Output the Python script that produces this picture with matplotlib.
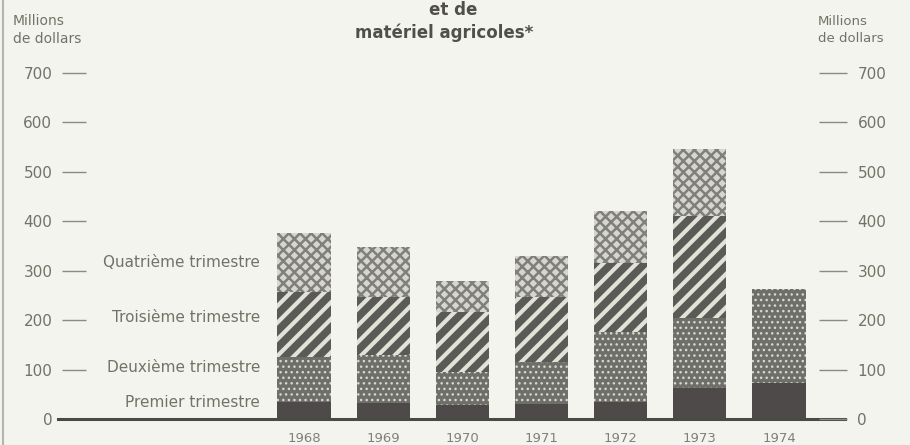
import matplotlib
matplotlib.use("Agg")
import matplotlib.pyplot as plt
from matplotlib import transforms
from matplotlib.lines import Line2D

# ---- data (millions de dollars) ----
years = ["1968", "1969", "1970", "1971", "1972", "1973", "1974"]
q1 = [34, 32, 28, 30, 34, 63, 73]
q2 = [92, 98, 67, 86, 142, 142, 191]
q3 = [130, 117, 122, 131, 140, 205, 0]
q4 = [121, 100, 63, 82, 104, 136, 0]
quarter_labels = ["Premier trimestre", "Deuxième trimestre",
                  "Troisième trimestre", "Quatrième trimestre"]
quarter_label_y = [34, 105, 205, 316]
yticks = [0, 100, 200, 300, 400, 500, 600, 700]
ytick_labels = ["0", "100", "200", "300", "400", "500", "600", "700"]

BG = "#f4f4ee"
TXT = "#727266"
DARK = "#505048"

W, H = 910, 445
fig = plt.figure(figsize=(W / 100, H / 100), dpi=100, facecolor=BG)
ax = fig.add_axes([264.4 / W, 26 / H, (818.6 - 264.4) / W, 346 / H])
ax.set_facecolor("none")
ax.set_xlim(-0.5, 6.5)
ax.set_ylim(0, 700)

x = list(range(len(years)))
bw = 0.67
b2 = [a + b for a, b in zip(q1, q2)]
b3 = [a + b for a, b in zip(b2, q3)]

ax.bar(x, q1, width=bw, color="#4e4a49", linewidth=0, zorder=2)
with plt.rc_context({"hatch.linewidth": 1.0}):
    ax.bar(x, q2, bottom=q1, width=bw, facecolor="#6f6f6a",
           edgecolor="#d8d8ce", hatch="...", linewidth=0, zorder=2)
with plt.rc_context({"hatch.linewidth": 3.0}):
    ax.bar(x, q3, bottom=b2, width=bw, facecolor="#5a5a56",
           edgecolor="#e2e2d8", hatch="//", linewidth=0, zorder=2)
with plt.rc_context({"hatch.linewidth": 1.8}):
    ax.bar(x, q4, bottom=b3, width=bw, facecolor="#d6d6ce",
           edgecolor="#80807a", hatch="xxx", linewidth=0, zorder=2)

# x labels
ax.set_xticks(x)
ax.set_xticklabels(years, fontsize=9.5, color="#808076")
ax.tick_params(axis="x", length=0, pad=9)

# left axis: labels with detached dashes
for s in ax.spines.values():
    s.set_visible(False)
ax.spines["left"].set_position(("outward", 145.7))
ax.set_yticks(yticks)
ax.set_yticklabels(ytick_labels, fontsize=11, color=TXT)
ax.tick_params(axis="y", direction="in", length=17.3, width=1.0,
               color="#8a8a80", pad=7)

# right axis
ax2 = ax.twinx()
ax2.set_ylim(0, 700)
for s in ax2.spines.values():
    s.set_visible(False)
ax2.set_yticks(yticks)
ax2.set_yticklabels(ytick_labels, fontsize=11, color=TXT)
ax2.tick_params(axis="y", direction="out", length=20, width=1.0,
                color="#8a8a80", pad=8)

# baseline
bt = transforms.blended_transform_factory(fig.transFigure, ax.transData)
ax.add_line(Line2D([58 / W, 845 / W], [0, 0], transform=bt,
                   color="#4a4a44", lw=2.2, clip_on=False, zorder=3))

# quarter labels
for lab, yv in zip(quarter_labels, quarter_label_y):
    ax.text(260 / W, yv, lab, transform=bt, ha="right", va="center",
            fontsize=11, color=TXT)

# headers
fig.text(13 / W, 1 - 30 / H, "Millions\nde dollars", ha="left", va="center",
         fontsize=10, color=TXT, linespacing=1.35)
fig.text(818 / W, 1 - 30 / H, "Millions\nde dollars", ha="left", va="center",
         fontsize=9.5, color=TXT, linespacing=1.35)

# title
fig.text(453 / W, 1 - 10 / H, "et de", ha="center", va="center",
         fontsize=12, fontweight="bold", color=DARK)
fig.text(444 / W, 1 - 33 / H, "matériel agricoles*", ha="center", va="center",
         fontsize=12, fontweight="bold", color=DARK)

# left scan border
fig.add_artist(Line2D([3 / W, 3 / W], [0, 1], transform=fig.transFigure,
                      color="#b4b4aa", lw=1.5))

fig.savefig("out.png", dpi=100, facecolor=BG)
